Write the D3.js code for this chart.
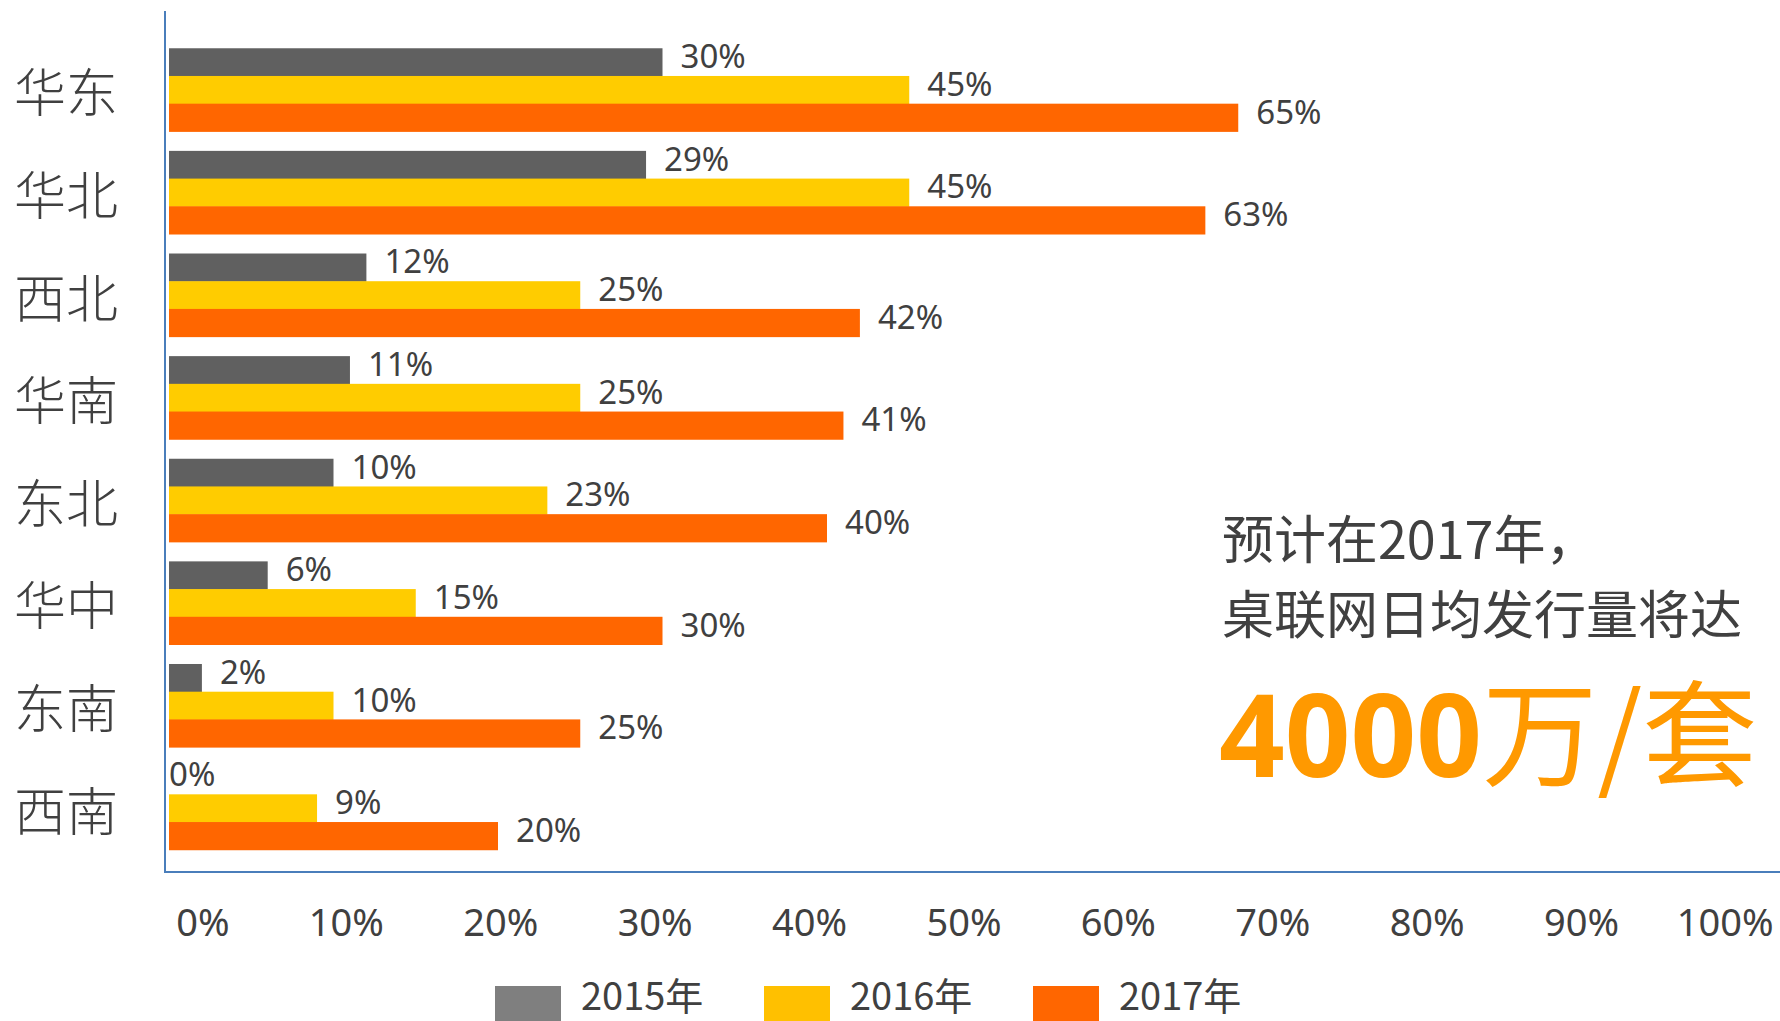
<!DOCTYPE html>
<html lang="zh">
<head>
    <meta charset="UTF-8">
    <title>区域发行量占比</title>
    <script src="https://d3js.org/d3.v7.min.js"></script>
    <style>
        body {
            margin: 0;
            background: #fff;
        }
        svg text {
            fill: #404040;
        }
    </style>
</head>
<body>
    <div id="chart"></div>

    <script>
        // data
        const categories = ["华东", "华北", "西北", "华南", "东北", "华中", "东南", "西南"];
        const years = ["2015年", "2016年", "2017年"];
        const values2015 = [30, 29, 12, 11, 10, 6, 2, 0];
        const values2016 = [45, 45, 25, 25, 23, 15, 10, 9];
        const values2017 = [65, 63, 42, 41, 40, 30, 25, 20];
        const tickValues = [0, 10, 20, 30, 40, 50, 60, 70, 80, 90, 100];
        const noteLines = ["预计在2017年，", "桌联网日均发行量将达"];
        const bigNumber = "4000";
        const bigUnit = "万/套";

        const barColors = ["#606060", "#ffcc00", "#ff6600"];
        const legendColors = ["#7f7f7f", "#ffc000", "#ff6600"];

        const width = 1780;
        const height = 1021;
        const axisColor = "#4a7ebb";
        const latin = "'Noto Sans', 'Open Sans', sans-serif";
        const cjk = "'Noto Sans CJK SC', 'Noto Sans', sans-serif";

        const seriesValues = [values2015, values2016, values2017];
        const rows = categories.map((c, i) => ({
            name: c,
            vals: years.map((y, j) => ({ year: y, idx: j, value: seriesValues[j][i] }))
        }));

        const svg = d3.select("#chart")
            .append("svg")
            .attr("width", width)
            .attr("height", height);

        // scales
        const x = d3.scaleLinear().domain([0, 100]).range([169, 1814]);
        const xAxisScale = d3.scaleLinear().domain([0, 100]).range([229, 1773]);
        const y = d3.scaleBand().domain(categories).range([38, 860])
            .paddingInner(0.19).paddingOuter(0.1);
        const ySub = d3.scaleBand().domain(years).range([0, y.bandwidth()]);

        // axis lines
        svg.append("line")
            .attr("x1", 165).attr("x2", 165)
            .attr("y1", 11).attr("y2", 872)
            .attr("stroke", axisColor).attr("stroke-width", 2);
        svg.append("line")
            .attr("x1", 164).attr("x2", width)
            .attr("y1", 872).attr("y2", 872)
            .attr("stroke", axisColor).attr("stroke-width", 2);

        // category labels
        svg.selectAll(".cat")
            .data(categories)
            .enter()
            .append("text")
            .attr("class", "cat")
            .attr("x", 14)
            .attr("y", d => y(d) + y.bandwidth() / 2)
            .attr("dominant-baseline", "central")
            .attr("font-family", cjk)
            .attr("font-weight", 300)
            .attr("font-size", 52)
            .text(d => d);

        // bars
        const groups = svg.selectAll(".grp")
            .data(rows)
            .enter()
            .append("g")
            .attr("class", "grp")
            .attr("transform", d => `translate(0, ${y(d.name)})`);

        groups.selectAll("rect")
            .data(d => d.vals)
            .enter()
            .append("rect")
            .attr("x", x(0))
            .attr("y", d => ySub(d.year))
            .attr("width", d => x(d.value) - x(0))
            .attr("height", ySub.bandwidth() + 0.5)
            .attr("fill", d => barColors[d.idx]);

        groups.selectAll(".val")
            .data(d => d.vals)
            .enter()
            .append("text")
            .attr("class", "val")
            .attr("x", d => d.value === 0 ? x(0) : x(d.value) + 18)
            .attr("y", d => ySub(d.year) + ySub.bandwidth() / 2 + 6)
            .attr("font-family", latin)
            .attr("font-size", 33)
            .text(d => d.value + "%");

        // x axis labels
        const xAxis = d3.axisBottom(xAxisScale)
            .tickValues(tickValues)
            .tickFormat(d => d + "%")
            .tickSize(0);

        const axisG = svg.append("g")
            .attr("transform", "translate(0, 936)")
            .call(xAxis);
        axisG.select(".domain").remove();
        axisG.selectAll("text")
            .attr("y", 0)
            .attr("dy", null)
            .attr("text-anchor", "end")
            .attr("font-family", latin)
            .attr("font-size", 38)
            .style("fill", "#404040");

        // legend
        const legendX = d3.scalePoint().domain(years).range([495, 1033]);
        const legend = svg.selectAll(".leg")
            .data(years)
            .enter()
            .append("g")
            .attr("class", "leg")
            .attr("transform", d => `translate(${legendX(d)}, 986)`);

        legend.append("rect")
            .attr("width", 66)
            .attr("height", 35)
            .attr("fill", (d, i) => legendColors[i]);

        legend.append("text")
            .attr("x", 86)
            .attr("y", 24)
            .attr("font-family", cjk)
            .attr("font-size", 38)
            .text(d => d);

        // note on the right
        svg.selectAll(".note")
            .data(noteLines)
            .enter()
            .append("text")
            .attr("class", "note")
            .attr("x", 1222)
            .attr("y", (d, i) => 559 + i * 75)
            .attr("font-family", cjk)
            .attr("font-size", 52)
            .text(d => d);

        const big = svg.append("text")
            .attr("x", 1219)
            .attr("y", 777)
            .attr("font-size", 115)
            .style("fill", "#ff9900");
        big.append("tspan")
            .attr("font-family", latin)
            .attr("font-weight", "bold")
            .style("fill", "#ff9900")
            .text(bigNumber);
        big.append("tspan")
            .attr("font-family", cjk)
            .attr("font-weight", "normal")
            .style("fill", "#ff9900")
            .text(bigUnit);
    </script>
</body>
</html>
